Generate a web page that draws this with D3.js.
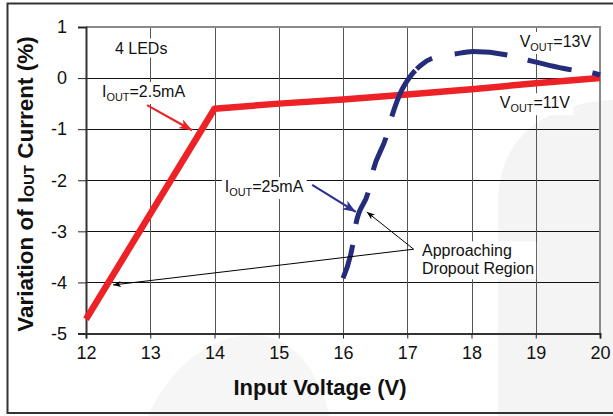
<!DOCTYPE html>
<html>
<head>
<meta charset="utf-8">
<script src="https://cdn.jsdelivr.net/npm/d3@7/dist/d3.min.js"></script>
<style>
  html, body { margin: 0; padding: 0; background: #fff; }
  svg { display: block; }
  text { font-family: Arial, "Liberation Sans", sans-serif; }
</style>
</head>
<body>
<svg id="chart" width="613" height="416"></svg>
<script>
// ---------- data ----------
const xTicks = [12, 13, 14, 15, 16, 17, 18, 19, 20];
const yTicks = [-5, -4, -3, -2, -1, 0, 1];

// I_OUT = 2.5mA, V_OUT = 11V (red)
const redVin = [12, 14, 15, 16, 17, 18, 19, 20];
const redVar = [-4.72, -0.6, -0.5, -0.42, -0.32, -0.22, -0.1, 0.0];

// I_OUT = 25mA, V_OUT = 13V (blue dashed)
const blueVin = [16.0, 16.15, 16.2, 16.39, 16.47, 16.67, 16.76, 16.89, 17.04, 17.21, 17.39, 17.74, 18.02, 18.57, 18.88, 19.56, 19.89, 20.0];
const blueVar = [-3.92, -3.27, -2.86, -2.24, -1.8, -1.16, -0.75, -0.3, 0.02, 0.25, 0.39, 0.47, 0.52, 0.45, 0.35, 0.16, 0.1, 0.06];

// ---------- layout ----------
const svg = d3.select("#chart");
const W = 613, H = 416;
const x = d3.scaleLinear().domain([12, 20]).range([86, 600]);
const y = d3.scaleLinear().domain([-5, 1]).range([333.5, 27]);
const FONT = 'Arial, "Liberation Sans", sans-serif';

// watermark shapes
svg.append("path")
  .attr("d", "M498,416 L498,205 C498,140 540,104 613,100 L613,416 Z")
  .attr("fill", "#f4f4f4");
svg.append("path")
  .attr("d", "M148,416 C168,372 205,336 252,335 C295,335 318,372 330,416 Z")
  .attr("fill", "#f6f6f6");

// outer frame
svg.append("path")
  .attr("d", "M613,3.5 L7.5,3.5 L7.5,413 L613,413")
  .attr("fill", "none").attr("stroke", "#333").attr("stroke-width", 2);

// grid
const grid = svg.append("g");
grid.selectAll("line.h").data(yTicks.filter(d => d > -5 && d < 1)).join("line")
  .attr("x1", x(12)).attr("x2", x(20))
  .attr("y1", d => Math.round(y(d)) + 0.5).attr("y2", d => Math.round(y(d)) + 0.5)
  .attr("stroke", "#111").attr("stroke-width", 1);
grid.selectAll("line.v").data(xTicks.filter(d => d > 12 && d < 20)).join("line")
  .attr("y1", y(1)).attr("y2", y(-5))
  .attr("x1", d => Math.round(x(d)) + 0.5).attr("x2", d => Math.round(x(d)) + 0.5)
  .attr("stroke", "#555").attr("stroke-width", 1);

// top & right border (grey)
svg.append("path")
  .attr("d", `M${x(12)},${y(1)} L${x(20)},${y(1)} L${x(20)},${y(-5)}`)
  .attr("fill", "none").attr("stroke", "#8a8a8a").attr("stroke-width", 2);

// axes
const yAxis = svg.append("g").attr("transform", `translate(${x(12)},0)`)
  .call(d3.axisLeft(y).tickValues(yTicks).tickSize(8).tickPadding(11).tickFormat(d3.format("d")));
const xAxis = svg.append("g").attr("transform", `translate(0,${y(-5)})`)
  .call(d3.axisBottom(x).tickValues(xTicks).tickSize(5).tickPadding(8).tickFormat(d3.format("d")));
[xAxis, yAxis].forEach(g => {
  g.select(".domain").attr("stroke", "#333").attr("stroke-width", 2);
  g.selectAll(".tick line").attr("stroke", "#222").attr("stroke-width", 1);
  g.selectAll(".tick text").attr("font-family", FONT).attr("font-size", 18).attr("fill", "#111");
});
yAxis.selectAll(".tick text").text(d => d < 0 ? "-" + Math.abs(d) : d);

// data lines
const line = d3.line().x(d => x(d[0])).y(d => y(d[1]));
svg.append("path")
  .datum(redVin.map((v, i) => [v, redVar[i]]))
  .attr("d", line)
  .attr("fill", "none").attr("stroke", "#ec2227").attr("stroke-width", 6.5)
  .attr("stroke-linejoin", "round");

svg.append("path")
  .datum(blueVin.map((v, i) => [v, blueVar[i]]))
  .attr("d", line.curve(d3.curveMonotoneX))
  .attr("fill", "none").attr("stroke", "#252c7a").attr("stroke-width", 5)
  .attr("stroke-dasharray", "35,21,34,23,35,22,52,2,19,23,53,21,45,21,60");

// markers
const defs = svg.append("defs");
function marker(id, color, w, h) {
  defs.append("marker").attr("id", id)
    .attr("viewBox", `0 0 ${w} ${h}`).attr("refX", w).attr("refY", h / 2)
    .attr("markerWidth", w).attr("markerHeight", h).attr("markerUnits", "userSpaceOnUse")
    .attr("orient", "auto")
    .append("path").attr("d", `M0,0 L${w},${h / 2} L0,${h} L${w * 0.25},${h / 2} Z`).attr("fill", color);
}
marker("arRed", "#ec2227", 13, 10);
marker("arBlue", "#2e3192", 13, 10);
marker("arBlack", "#000", 8, 6);

// annotation text with optional white box
function label(parts, vx, vy, size, box) {
  const t = svg.append("text").attr("x", x(vx)).attr("y", y(vy))
    .attr("font-family", FONT).attr("font-size", size).attr("fill", "#111");
  parts.forEach(p => {
    const s = t.append("tspan").text(p.t);
    if (p.sub) s.attr("font-size", size * 0.68).attr("dy", 4);
    if (p.up) s.attr("dy", -4);
  });
  if (box) {
    const b = t.node().getBBox();
    svg.insert("rect", () => t.node())
      .attr("x", b.x - 3).attr("y", b.y - 1).attr("width", b.width + 6).attr("height", b.height + 2)
      .attr("fill", "#fff");
  }
  return t;
}

// arrows (drawn under text boxes where needed)
function arrow(x1, y1, x2, y2, color, w, m) {
  svg.append("line").attr("x1", x(x1)).attr("y1", y(y1)).attr("x2", x(x2)).attr("y2", y(y2))
    .attr("stroke", color).attr("stroke-width", w).attr("marker-end", `url(#${m})`);
}
arrow(12.95, -0.53, 13.65, -1.02, "#ec2227", 2.2, "arRed");
arrow(15.52, -2.09, 16.2, -2.62, "#2e3192", 2.2, "arBlue");
arrow(17.1, -3.35, 16.37, -2.62, "#000", 1, "arBlack");
arrow(17.1, -3.35, 12.42, -4.05, "#000", 1, "arBlack");

label([{t: "4 LEDs"}], 12.45, 0.48, 16, true);
label([{t: "I"}, {t: "OUT", sub: true}, {t: "=2.5mA", up: true}], 12.25, -0.37, 16, true);
label([{t: "I"}, {t: "OUT", sub: true}, {t: "=25mA", up: true}], 14.16, -2.23, 16, true);
label([{t: "V"}, {t: "OUT", sub: true}, {t: "=13V", up: true}], 18.75, 0.61, 16, true);
label([{t: "V"}, {t: "OUT", sub: true}, {t: "=11V", up: true}], 18.44, -0.59, 16, true);

// dropout text block
const dg = svg.append("g");
const dt = dg.append("text").attr("font-family", FONT).attr("font-size", 16).attr("fill", "#111");
dt.append("tspan").attr("x", x(17.23)).attr("y", y(-3.49)).text("Approaching");
dt.append("tspan").attr("x", x(17.23)).attr("y", y(-3.84)).text("Dropout Region");
const db = dt.node().getBBox();
dg.insert("rect", "text").attr("x", db.x - 4).attr("y", db.y - 1).attr("width", db.width + 6).attr("height", db.height + 3).attr("fill", "#fff");

// axis titles
svg.append("text")
  .attr("x", 320).attr("y", 395).attr("text-anchor", "middle")
  .attr("font-family", FONT).attr("font-size", 22).attr("font-weight", "bold").attr("fill", "#111")
  .text("Input Voltage (V)");

const yt = svg.append("text")
  .attr("transform", "translate(33,184) rotate(-90)").attr("text-anchor", "middle")
  .attr("font-family", FONT).attr("font-size", 22.5).attr("font-weight", "bold").attr("fill", "#111");
yt.append("tspan").text("Variation of I");
yt.append("tspan").text("OUT").attr("font-size", 15).attr("dy", 1);
yt.append("tspan").text(" Current (%)").attr("dy", -1);
</script>
</body>
</html>
